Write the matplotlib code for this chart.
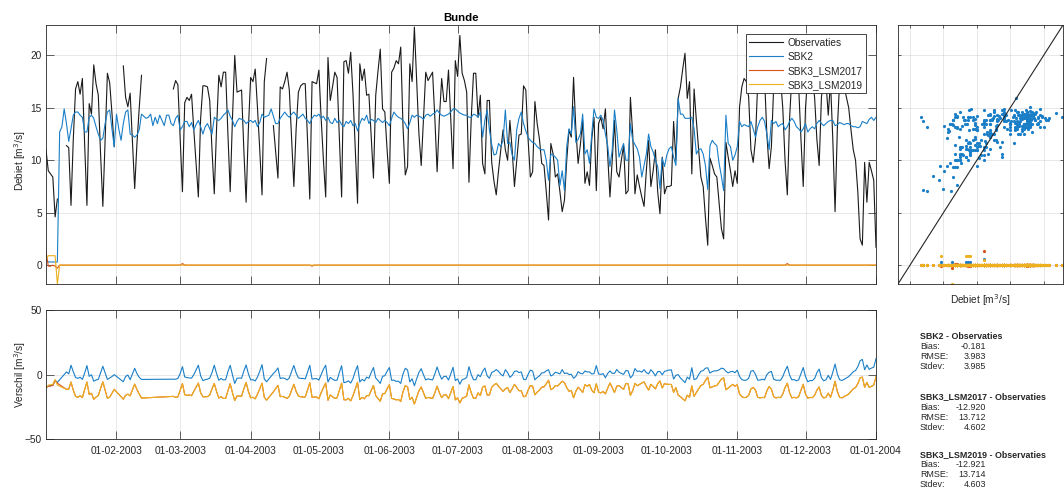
import numpy as np
import pandas as pd
import matplotlib
matplotlib.use("Agg")
import matplotlib.pyplot as plt
import matplotlib.dates as mdates

plt.rcParams['font.family'] = ['Liberation Sans', 'DejaVu Sans']

# daily values 01-01-2003 .. 01-01-2004
dates = pd.date_range('2003-01-01', '2004-01-01', freq='D')

obs_txt = """
11.0 9.0 8.7 8.4 4.6 6.3 nan nan nan 11.4
11.2 5.7 12.0 16.8 17.5 16.3 17.8 11.5 5.7 15.4
14.4 19.1 17.3 16.2 10.6 5.6 12.0 18.3 17.4 14.5
11.3 nan nan nan 19.0 16.0 15.1 16.4 11.8 7.3
11.6 15.0 18.1 nan nan nan nan nan nan nan
nan nan nan nan nan nan 16.8 17.6 17.2 12.0
7.0 15.5 16.0 15.7 16.3 12.9 9.7 6.5 14.0 17.1
17.1 17.0 15.7 11.0 6.8 13.0 18.1 17.0 18.4 18.4
12.5 7.0 14.0 20.0 16.5 16.6 16.7 11.0 6.0 13.0
17.9 17.5 18.7 15.0 11.0 6.7 17.5 19.7 nan nan
13.3 10.8 8.3 17.0 16.8 17.5 18.4 16.7 12.0 7.5
13.0 16.5 17.1 17.3 17.3 12.0 6.3 17.5 17.4 17.3
18.6 14.0 10.0 6.5 19.8 15.7 17.0 18.4 17.9 12.2
6.5 19.4 19.5 18.3 20.3 16.3 11.0 5.9 19.2 17.6
18.7 16.2 16.3 12.3 8.3 16.2 18.5 20.6 14.9 14.6
11.0 7.8 18.4 18.8 19.5 19.2 20.8 13.2 8.6 9.4
19.2 17.5 22.7 17.5 12.5 9.5 14.0 18.4 17.6 18.0
18.4 14.0 8.9 14.0 17.8 15.6 15.6 18.6 14.0 9.2
19.5 18.0 21.9 18.3 17.6 16.5 7.9 14.0 18.3 18.3
14.1 16.2 9.7 8.7 15.7 15.7 9.8 8.0 6.7 9.0
11.0 12.9 11.0 10.0 13.8 11.0 7.5 10.0 12.4 12.5
17.1 16.7 12.0 8.4 8.9 15.6 13.5 12.0 9.7 9.5
7.0 4.3 11.6 10.6 8.4 8.7 7.0 5.1 6.2 10.0
12.9 12.2 17.9 13.0 9.7 11.5 13.8 7.8 8.9 7.6
12.0 14.1 7.1 13.5 14.1 13.0 14.9 10.5 6.5 10.0
13.8 8.9 8.4 10.0 11.4 6.8 7.1 16.0 12.5 6.8
8.6 7.5 6.5 5.6 9.0 11.9 7.5 9.0 11.0 7.0
4.9 10.3 6.8 7.5 7.5 7.6 13.7 10.0 15.9 17.0
18.7 20.2 15.9 17.5 8.7 16.8 13.8 11.0 8.4 7.5
4.5 1.9 10.2 9.5 8.7 8.4 6.0 3.5 2.5 11.7
10.3 9.0 7.5 9.0 7.8 15.1 17.0 17.8 17.5 16.0
11.0 9.8 12.0 17.5 18.0 17.6 17.8 12.5 9.2 11.3
17.0 18.0 17.5 17.8 15.0 10.0 6.7 14.0 18.0 17.5
18.0 17.0 12.0 7.5 15.0 18.2 17.6 17.8 16.0 12.0
9.5 16.0 18.0 17.5 14.3 17.5 12.0 5.1 13.0 17.5
18.0 17.0 16.0 15.0 12.9 11.0 10.0 7.0 2.5 1.9
9.8 6.0 9.8 9.0 8.1 1.7
"""

sbk2_txt = """
0.55 0.3 0.3 0.3 0.3 0.3 12.7 13.2 14.9 13.5
11.8 13.0 14.3 14.6 14.6 14.3 14.1 12.7 12.7 14.1
14.3 14.0 13.2 12.5 11.9 12.1 13.5 14.6 14.8 13.0
11.3 14.4 13.0 11.9 13.5 14.6 14.8 12.5 12.4 12.2
12.4 12.9 14.4 14.2 14.0 14.1 14.4 13.3 14.1 13.5
14.3 13.8 13.3 14.3 14.3 13.5 13.3 14.0 14.3 12.9
13.2 13.7 13.7 13.2 13.6 12.9 13.4 13.8 13.2 12.5
13.2 13.5 13.0 12.5 14.1 13.9 13.8 14.0 14.3 14.5
14.8 14.2 13.8 13.2 13.7 14.0 13.9 13.8 13.5 13.7
13.8 13.6 13.8 13.2 13.6 14.4 14.1 14.2 14.3 14.9
14.2 13.5 13.5 14.0 14.3 14.6 14.3 14.1 14.4 14.6
14.3 14.0 14.2 14.4 14.0 13.8 13.5 14.0 14.3 14.2
14.4 14.0 14.2 13.8 14.1 13.6 13.5 14.0 13.6 13.8
13.4 13.2 13.7 13.5 13.8 13.3 13.5 12.8 13.5 14.0
13.8 14.3 13.5 13.9 13.8 13.6 14.0 13.8 13.6 13.8
13.6 13.3 14.0 14.6 14.3 14.1 14.0 13.8 13.5 13.0
13.6 14.3 14.1 14.3 14.2 14.1 13.9 14.3 14.4 14.2
14.4 14.5 14.8 14.5 14.3 14.2 14.3 14.4 14.6 14.9
14.9 14.7 14.5 14.4 14.3 14.3 14.1 14.1 14.4 14.3
14.1 14.6 12.2 13.8 14.8 12.9 11.5 10.5 10.6 11.6
11.3 11.9 14.8 11.6 11.7 10.5 10.0 12.9 14.0 14.6
13.5 12.8 12.2 11.9 11.7 11.6 11.3 11.1 11.0 11.0
10.0 8.1 10.6 10.5 10.3 10.0 7.6 9.0 7.1 11.3
13.0 12.5 15.1 11.7 12.0 12.5 14.4 10.6 11.0 9.7
12.5 14.9 14.1 14.0 14.3 13.8 12.5 11.4 9.4 11.0
14.8 12.9 10.3 11.0 11.6 10.0 10.0 13.5 11.9 11.5
11.1 10.3 8.4 9.5 10.6 12.5 11.3 10.8 10.0 9.4
7.3 10.2 9.4 10.5 11.1 11.3 10.3 9.5 15.9 14.4
14.4 14.0 14.0 14.0 14.1 13.0 10.6 11.0 11.1 10.6
9.5 7.2 11.4 11.9 11.6 11.4 9.7 8.5 7.1 14.3
11.6 11.3 10.0 10.5 11.3 13.7 13.2 13.4 13.3 13.2
13.7 13.0 12.2 13.2 13.8 14.1 13.7 12.5 11.0 13.8
13.5 13.7 13.2 13.4 13.5 12.9 13.2 13.7 14.0 13.7
13.2 13.0 12.7 13.0 13.5 12.7 13.0 13.2 13.0 13.5
13.8 13.5 13.3 13.5 13.7 13.8 13.8 13.3 13.4 13.6
13.5 13.4 13.5 13.5 13.3 13.2 13.2 13.1 13.2 13.7
13.6 13.5 13.9 14.1 13.8 14.1
"""

lsm2017_txt = """
1.3 -0.1 -0.1 0 -0.1 -0.3 0 0 0 0
0 0 0 0 0 0 0 0 0 0 0 0 0 0 0 0 0 0 0 0
0 0 0 0 0 0 0 0 0 0 0 0 0 0 0 0 0 0 0 0
0 0 0 0 0 0 0 0 0 0 0.15 0 0 0 0 0 0 0 0 0
0 0 0 0 0 0 0 0 0 0 0 0 0 0 0 0 0 0 0 0
0 0 0 0 0 0 0 0 0 0 0 0 0 0 0 0 0 0 0 0
0 0 0 0 0 0 0 -0.1 0 0 0 0 0 0 0 0 0 0 0 0
0 0 0 0 0 0 0 0 0 0 0 0 0 0 0 0 0 0 0 0
0 0 0 0 0 0 0 0 0 0 0 0 0 0 0 0 0 0 0 0
0 0 0 0 0 0 0 0 0 0 0 0 0 0 0 0 0 0 0 0
0 0 0 0 0 0 0 0 0 0 0 0 0 0 0 0 0 0 0 0
0 0 0 0 0 0 0 0 0 0 0 0 0 0 0 0 0 0 0 0
0 0 0 0 0 0 0 0 0 0 0 0 0 0 0 0 0 0 0 0
0 0 0 0 0 0 0 0 0 0 0 0 0 0 0 0 0 0 0 0
0 0 0 0 0 0 0 0 0 0 0 0 0 0 0 0 0 0 0 0
0 0 0 0 0 0 0 0 0 0 0 0 0 0 0 0 0 0 0 0
0 0 0 0 0 0 0 0 0 0 0 0 0 0 0 0 0.15 0 0 0
0 0 0 0 0 0 0 0 0 0 0 0 0 0 0 0 0 0 0 0
0 0 0 0 0 0 0 0 0 0 0 0 0 0 0 0
"""

lsm2019_txt = """
0.5 0.9 0.9 0.9 0.9 -1.8 0 0 0 0
0 0 0 0 0 0 0 0 0 0 0 0 0 0 0 0 0 0 0 0
0 0 0 0 0 0 0 0 0 0 0 0 0 0 0 0 0 0 0 0
0 0 0 0 0 0 0 0 0 0 0 0 0 0 0 0 0 0 0 0
0 0 0 0 0 0 0 0 0 0 0 0 0 0 0 0 0 0 0 0
0 0 0 0 0 0 0 0 0 0 0 0 0 0 0 0 0 0 0 0
0 0 0 0 0 0 0 0 0 0 0 0 0 0 0 0 0 0 0 0
0 0 0 0 0 0 0 0 0 0 0 0 0 0 0 0 0 0 0 0
0 0 0 0 0 0 0 0 0 0 0 0 0 0 0 0 0 0 0 0
0 0 0 0 0 0 0 0 0 0 0 0 0 0 0 0 0 0 0 0
0 0 0 0 0 0 0 0 0 0 0 0 0 0 0 0 0 0 0 0
0 0 0 0 0 0 0 0 0 0 0 0 0 0 0 0 0 0 0 0
0 0 0 0 0 0 0 0 0 0 0 0 0 0 0 0 0 0 0 0
0 0 0 0 0 0 0 0 0 0 0 0 0 0 0 0 0 0 0 0
0 0 0 0 0 0 0 0 0 0 0 0 0 0 0 0 0 0 0 0
0 0 0 0 0 0 0 0 0 0 0 0 0 0 0 0 0 0 0 0
0 0 0 0 0 0 0 0 0 0 0 0 0 0 0 0 0 0 0 0
0 0 0 0 0 0 0 0 0 0 0 0 0 0 0 0 0 0 0 0
0 0 0 0 0 0 0 0 0 0 0 0 0 0 0 0
"""

obs = np.array(obs_txt.split(), dtype=float)
sbk2 = np.array(sbk2_txt.split(), dtype=float)
lsm2017 = np.array(lsm2017_txt.split(), dtype=float)
lsm2019 = np.array(lsm2019_txt.split(), dtype=float)

series_names = ['Observaties', 'SBK2', 'SBK3_LSM2017', 'SBK3_LSM2019']
colors = ['#1a1a1a', '#1a7fc7', '#D95319', '#EDB120']

# statistieken (model - observaties)
stat_models = ['SBK2', 'SBK3_LSM2017', 'SBK3_LSM2019']
stat_bias = [-0.181, -12.920, -12.921]
stat_rmse = [3.983, 13.712, 13.714]
stat_stdev = [3.985, 4.602, 4.603]

W, H = 1064, 491
fig = plt.figure(figsize=(W / 100, H / 100), dpi=100)


def box(x0, y0, x1, y1):
    return [x0 / W, 1 - y1 / H, (x1 - x0) / W, (y1 - y0) / H]


def matlab_style(a, ticklen):
    a.tick_params(direction='in', length=ticklen, width=0.5, colors='#262626',
                  labelsize=7.3, top=True, right=True, pad=3)
    for s in a.spines.values():
        s.set_color('#262626')
        s.set_linewidth(0.6)
    a.grid(True, color='#262626', alpha=0.15, lw=0.5)
    a.set_axisbelow(True)


ax = fig.add_axes(box(46, 25, 876, 284))
ax_sc = fig.add_axes(box(898, 25, 1063, 284))
ax_d = fig.add_axes(box(46, 310, 876, 439.3))

month_ticks = pd.date_range('2003-02-01', '2004-01-01', freq='MS')

# --- tijdreeks debiet
for vals, name, c in zip([obs, sbk2, lsm2017, lsm2019], series_names, colors):
    ax.plot(dates, vals, color=c, lw=0.8, label=name)
ax.set_xlim(dates[0], dates[-1])
ax.set_ylim(-1.8, 22.9)
ax.set_yticks([0, 5, 10, 15, 20])
ax.set_xticks(month_ticks)
ax.set_xticklabels([])
matlab_style(ax, 5.8)
ax.set_ylabel('Debiet [m$^3$/s]', fontsize=7.3, color='#262626')
ax.yaxis.set_label_coords(-0.022, 0.475)
ax.set_title('Bunde', fontsize=8.2, fontweight='bold', pad=3)
leg = ax.legend(loc='upper right', bbox_to_anchor=((866 - 46) / 830, (284 - 34) / 259),
                borderaxespad=0, fontsize=7.3, fancybox=False, edgecolor='#262626',
                framealpha=1, handlelength=3.3, handletextpad=0.45, borderpad=0.35,
                labelspacing=0.4)
leg.get_frame().set_linewidth(0.6)
for t in leg.get_texts():
    t.set_color('#262626')

# --- scatter obs vs model
for vals, c in zip([sbk2, lsm2017, lsm2019], colors[1:]):
    ax_sc.plot(obs, vals, 'o', ms=2.3, mew=0, color=c)
lims = (-1.8, 22.9)
ax_sc.plot(lims, lims, color='#262626', lw=0.8)
ax_sc.set_xlim(lims)
ax_sc.set_ylim(lims)
ax_sc.set_xticks([0, 5, 10, 15, 20])
ax_sc.set_yticks([0, 5, 10, 15, 20])
ax_sc.set_xticklabels([])
ax_sc.set_yticklabels([])
matlab_style(ax_sc, 1.9)
ax_sc.set_xlabel('Debiet [m$^3$/s]', fontsize=7.3, color='#262626')
ax_sc.xaxis.set_label_coords(0.5, -0.03)

# --- verschil
ok = ~np.isnan(obs)
for vals, c in zip([sbk2, lsm2017, lsm2019], colors[1:]):
    ax_d.plot(dates[ok], (vals - obs)[ok], color=c, lw=0.8)
ax_d.set_xlim(dates[0], dates[-1])
ax_d.set_ylim(-50, 50)
ax_d.set_yticks([-50, 0, 50])
ax_d.set_xticks(month_ticks)
ax_d.xaxis.set_major_formatter(mdates.DateFormatter('%d-%m-%Y'))
matlab_style(ax_d, 5.8)
ax_d.tick_params(axis='x', pad=4.5)
ax_d.set_ylabel('Verschil [m$^3$/s]', fontsize=7.3, color='#262626')
ax_d.yaxis.set_label_coords(-0.022, 0.5)

# --- statistiek tekst
block_y = [336.7, 397.0, 454.5]
for i, m in enumerate(stat_models):
    y0 = block_y[i]
    fig.text(920 / W, 1 - y0 / H, m + ' - Observaties', fontsize=6.4,
             fontweight='bold', va='center', ha='left', color='#262626')
    rows = [('Bias:', stat_bias[i]), ('RMSE:', stat_rmse[i]), ('Stdev:', stat_stdev[i])]
    for j, (lab, v) in enumerate(rows):
        yy = y0 + 10.0 * (j + 1)
        fig.text(920 / W, 1 - yy / H, lab, fontsize=6.4, va='center', ha='left',
                 color='#262626')
        fig.text(986 / W, 1 - yy / H, '%.3f' % v, fontsize=6.4, va='center',
                 ha='right', color='#262626')

fig.savefig('out.png', dpi=100)
